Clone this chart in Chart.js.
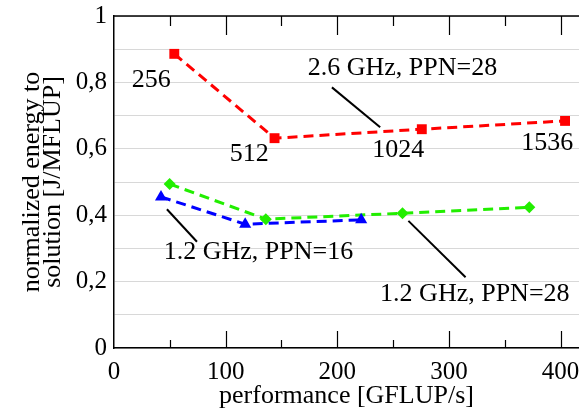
<!DOCTYPE html>
<html>
<head>
<meta charset="utf-8">
<script src="https://cdn.jsdelivr.net/npm/chart.js@4.4.0/dist/chart.umd.min.js"></script>
<style>
  html, body { margin: 0; padding: 0; background: #fff; }
  #wrap { width: 579px; height: 412px; }
</style>
</head>
<body>
<div id="wrap"><canvas id="energyChart"></canvas></div>
<script>
// performance [GFLUP/s] vs normalized energy [J/MFLUP]
const redX = [54, 143.8, 275.7, 404];
const redY = [0.886, 0.632, 0.659, 0.684];
const greenX = [49.8, 136, 258.4, 372];
const greenY = [0.494, 0.388, 0.406, 0.424];
const blueX = [42.1, 117.5, 221.4];
const blueY = [0.455, 0.373, 0.386];

const seriesNames = ["2.6 GHz, PPN=28", "1.2 GHz, PPN=16", "1.2 GHz, PPN=28"];
const coreLabels = ["256", "512", "1024", "1536"];
const coreLabelX = [33.4, 121.1, 254.5, 388.1];
const coreLabelY = [0.806, 0.585, 0.596, 0.617];

// callout text anchors and pointer lines, in data units
const calloutX = [258.4, 129.4, 323.2];
const calloutY = [0.842, 0.289, 0.163];
const pointerFrom = [[195.2, 0.785], [47.4, 0.418], [263.7, 0.383]];
const pointerTo = [[238.4, 0.665], [74.3, 0.320], [314.9, 0.213]];

const FONT = "Liberation Serif";

function pts(xs, ys) {
    return xs.map((x, i) => ({ x: x, y: ys[i] }));
}

const frame = {
    id: "frame",
    afterDatasetsDraw(chart) {
        const ctx = chart.ctx;
        const xs = chart.scales.x;
        const ys = chart.scales.y;
        const a = chart.chartArea;
        ctx.save();
        ctx.strokeStyle = "#000";
        ctx.lineWidth = 1.5;
        // top border
        ctx.beginPath();
        ctx.moveTo(a.left, a.top);
        ctx.lineTo(a.right, a.top);
        ctx.stroke();
        // inner ticks, bottom and top
        ctx.lineWidth = 1.2;
        for (let v = 50; v <= 400; v += 50) {
            const px = Math.round(xs.getPixelForValue(v)) + 0.5;
            const len = v % 100 === 0 ? 17 : 8;
            const lenTop = v % 100 === 0 ? 19 : 10;
            ctx.beginPath();
            ctx.moveTo(px, a.bottom);
            ctx.lineTo(px, a.bottom - len);
            ctx.moveTo(px, a.top);
            ctx.lineTo(px, a.top + lenTop);
            ctx.stroke();
        }
        // pointer lines
        ctx.lineWidth = 2;
        for (let i = 0; i < pointerFrom.length; i++) {
            ctx.beginPath();
            ctx.moveTo(xs.getPixelForValue(pointerFrom[i][0]), ys.getPixelForValue(pointerFrom[i][1]));
            ctx.lineTo(xs.getPixelForValue(pointerTo[i][0]), ys.getPixelForValue(pointerTo[i][1]));
            ctx.stroke();
        }
        // texts
        ctx.fillStyle = "#000";
        ctx.font = "26px '" + FONT + "'";
        ctx.textAlign = "center";
        ctx.textBaseline = "middle";
        coreLabels.forEach((t, i) => {
            ctx.fillText(t, xs.getPixelForValue(coreLabelX[i]), ys.getPixelForValue(coreLabelY[i]));
        });
        seriesNames.forEach((t, i) => {
            ctx.fillText(t, xs.getPixelForValue(calloutX[i]), ys.getPixelForValue(calloutY[i]));
        });
        ctx.restore();
    }
};

new Chart(document.getElementById("energyChart"), {
    type: "line",
    data: {
        datasets: [
            {
                label: seriesNames[0],
                data: pts(redX, redY),
                borderColor: "#ff0000",
                backgroundColor: "#ff0000",
                borderWidth: 3,
                borderDash: [10, 6],
                pointStyle: "rect",
                pointRadius: 7,
                pointBorderWidth: 0
            },
            {
                label: seriesNames[1],
                data: pts(blueX, blueY),
                borderColor: "#0000ff",
                backgroundColor: "#0000ff",
                borderWidth: 3,
                borderDash: [10, 6],
                pointStyle: "triangle",
                pointRadius: 7,
                pointBorderWidth: 0
            },
            {
                label: seriesNames[2],
                data: pts(greenX, greenY),
                borderColor: "#22ee00",
                backgroundColor: "#22ee00",
                borderWidth: 3,
                borderDash: [10, 6],
                pointStyle: "rectRot",
                pointRadius: 6,
                pointBorderWidth: 0
            }
        ]
    },
    options: {
        responsive: true,
        maintainAspectRatio: false,
        animation: false,
        layout: { autoPadding: false, padding: { top: 16, right: 0, left: 0, bottom: 0 } },
        plugins: {
            legend: { display: false },
            tooltip: { enabled: false }
        },
        scales: {
            x: {
                type: "linear",
                min: 0,
                max: 416.5,
                grid: { display: false },
                border: { color: "#000", width: 1.5 },
                ticks: {
                    stepSize: 100,
                    includeBounds: false,
                    autoSkip: false,
                    color: "#000",
                    font: { family: FONT, size: 25 },
                    padding: 1,
                    maxRotation: 0,
                    callback: (v) => (v % 100 === 0 ? String(v) : "")
                },
                title: {
                    display: true,
                    text: "performance [GFLUP/s]",
                    color: "#000",
                    font: { family: FONT, size: 26 },
                    padding: { top: 0, bottom: 0 }
                },
                afterFit: (s) => {
                    s.height = 64;
                    s.paddingLeft = 0;
                    s.paddingRight = 0;
                }
            },
            y: {
                min: 0,
                max: 1,
                grid: { color: "#d8d8d8", lineWidth: 1, drawTicks: false },
                border: { color: "#000", width: 1.5 },
                ticks: {
                    stepSize: 0.1,
                    autoSkip: false,
                    color: "#000",
                    font: { family: FONT, size: 25 },
                    padding: 7,
                    callback: (v) => {
                        const k = Math.round(v * 10);
                        if (k % 2 !== 0) return "";
                        if (k === 0) return "0";
                        if (k === 10) return "1";
                        return (k / 10).toFixed(1).replace(".", ",");
                    }
                },
                title: {
                    display: true,
                    text: ["normalized energy to", "solution [J/MFLUP]"],
                    color: "#000",
                    font: { family: FONT, size: 26, lineHeight: 0.8 },
                    padding: { top: 22, bottom: 0 }
                },
                afterFit: (s) => {
                    s.width = 114;
                    s.paddingTop = 0;
                    s.paddingBottom = 0;
                }
            }
        }
    },
    plugins: [frame]
});
</script>
</body>
</html>
